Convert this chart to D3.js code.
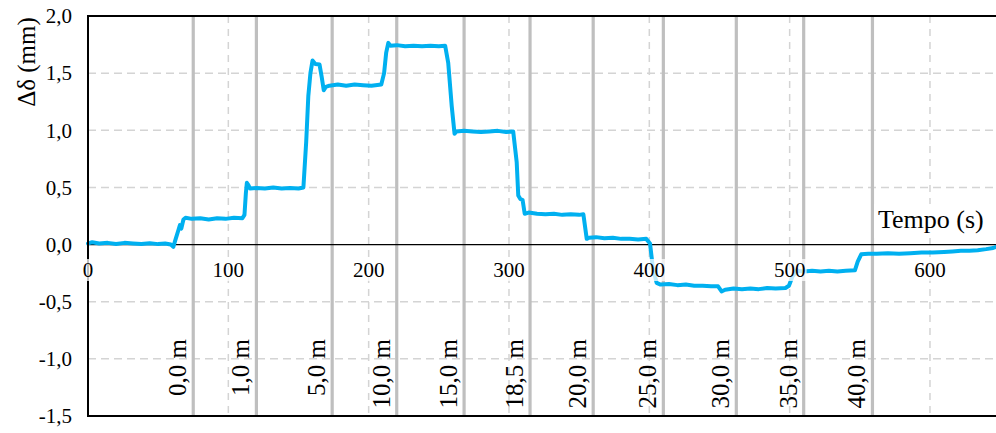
<!DOCTYPE html>
<html><head><meta charset="utf-8">
<script src="https://cdn.jsdelivr.net/npm/d3@7"></script>
<style>
html,body{margin:0;padding:0;background:#fff;}
</style></head>
<body><svg id="c" width="996" height="433" font-family="'Liberation Serif', 'DejaVu Serif', serif"></svg>
<script>
// ---- data ----
const time = [0,3,8,14,20,26,32,38,44,50,55,59,60.8,62.5,64.5,65.5,66.5,68,69.5,74,80,86,92,98,104,110,111.5,112.5,113.2,114.3,115.5,120,126,132,138,144,150,153.5,155.5,157,158.5,160,162,165,166.5,168,169.5,172,178,184,190,196,202,209,211,212.5,214,215.5,220,226,232,238,244,250,254.5,256.7,259.2,261.2,262.5,268,274,280,286,292,298,303,305.5,306.6,308,309.7,311.2,314,320,326,332,338,344,350,353,355.4,357,362,368,374,380,386,392,397.8,400.5,402.5,405.2,408,414,420,426,432,438,444,449,451.5,454,460,466,472,478,484,490,497,499.5,502,505,510,516,522,528,534,540,546.5,548.5,551,556,562,570,578,586,594,602,610,616,622,628,634,640,645,648];
const delta = [0.01,0.02,0.01,0.015,0.005,0.015,0.01,0.005,0.012,0.004,0.01,0.0,-0.02,0.05,0.13,0.17,0.14,0.22,0.235,0.225,0.23,0.22,0.23,0.225,0.235,0.23,0.26,0.45,0.54,0.52,0.49,0.495,0.49,0.5,0.49,0.495,0.49,0.5,0.9,1.3,1.5,1.61,1.58,1.575,1.47,1.35,1.38,1.39,1.4,1.39,1.4,1.395,1.39,1.4,1.5,1.68,1.765,1.74,1.745,1.735,1.74,1.735,1.74,1.735,1.74,1.59,1.21,0.97,0.99,0.995,0.99,0.985,0.99,0.995,0.985,0.99,0.72,0.43,0.4,0.39,0.27,0.28,0.27,0.265,0.27,0.26,0.265,0.26,0.265,0.05,0.06,0.065,0.055,0.06,0.05,0.05,0.045,0.05,0.01,-0.2,-0.335,-0.35,-0.345,-0.355,-0.35,-0.36,-0.36,-0.365,-0.365,-0.41,-0.395,-0.385,-0.39,-0.385,-0.39,-0.38,-0.385,-0.38,-0.36,-0.28,-0.23,-0.235,-0.23,-0.235,-0.23,-0.235,-0.23,-0.225,-0.15,-0.085,-0.08,-0.08,-0.075,-0.08,-0.075,-0.07,-0.07,-0.065,-0.06,-0.055,-0.055,-0.05,-0.04,-0.03,-0.015];
const markerTimes = [75,120,174,220,268,315,360,410,462,510,559];
const markerLabels = ["0,0 m","1,0 m","5,0 m","10,0 m","15,0 m","18,5 m","20,0 m","25,0 m","30,0 m","35,0 m","40,0 m"];
const xTicks = [0,100,200,300,400,500,600];
const yTicks = [2.0,1.5,1.0,0.5,0.0,-0.5,-1.0,-1.5];
const xTitle = "Tempo (s)";
const yTitle = "Δδ (mm)";

// ---- chart ----
const FONT = "'Liberation Serif', 'DejaVu Serif', serif";
const svg = d3.select("#c");
const L = 88, T = 16, B = 416;
const x = d3.scaleLinear().domain([0,650]).range([L, L + 650*1.4033]);
const y = d3.scaleLinear().domain([-1.5,2.0]).range([B, T]);
const fmt = v => d3.format(".1f")(v).replace(".", ",").replace("−","-");

// dashed grid
svg.append("g").selectAll("line").data(yTicks.filter(v => v !== 0 && v !== 2 && v !== -1.5)).join("line")
  .attr("x1", L).attr("x2", 996).attr("y1", d => y(d)).attr("y2", d => y(d))
  .attr("stroke", "#d4d4d4").attr("stroke-width", 1.5).attr("stroke-dasharray", "8,5");
svg.append("g").selectAll("line").data(xTicks.filter(v => v !== 0)).join("line")
  .attr("x1", d => x(d)).attr("x2", d => x(d)).attr("y1", T).attr("y2", B)
  .attr("stroke", "#d4d4d4").attr("stroke-width", 1.5).attr("stroke-dasharray", "7,6");

// marker lines
svg.append("g").selectAll("line").data(markerTimes).join("line")
  .attr("x1", d => x(d)).attr("x2", d => x(d)).attr("y1", T).attr("y2", B)
  .attr("stroke", "#bfbfbf").attr("stroke-width", 3.2);

// marker labels
svg.append("g").selectAll("text").data(markerTimes).join("text")
  .attr("transform", d => `translate(${x(d) - 7},339) rotate(-90)`)
  .attr("text-anchor", "end").attr("font-size", 25).attr("font-family", FONT)
  .text((d, i) => markerLabels[i]);

// zero axis
svg.append("line").attr("x1", L).attr("x2", 996).attr("y1", y(0)).attr("y2", y(0))
  .attr("stroke", "#000").attr("stroke-width", 1.3);

// data line
const line = d3.line().x(d => x(d[0])).y(d => y(d[1])).curve(d3.curveLinear);
svg.append("path").datum(time.map((t, i) => [t, delta[i]]))
  .attr("d", line).attr("fill", "none").attr("stroke", "#00b0f0")
  .attr("stroke-width", 4).attr("stroke-linejoin", "round").attr("stroke-linecap", "round");

// frame
svg.append("line").attr("x1", L).attr("x2", 996).attr("y1", T).attr("y2", T).attr("stroke", "#000").attr("stroke-width", 2);
svg.append("line").attr("x1", L).attr("x2", 996).attr("y1", B).attr("y2", B).attr("stroke", "#000").attr("stroke-width", 2);
svg.append("line").attr("x1", L).attr("x2", L).attr("y1", T - 1).attr("y2", B + 1).attr("stroke", "#000").attr("stroke-width", 2);

// x tick labels with translucent white background
const xt = svg.append("g").selectAll("g").data(xTicks).join("g");
xt.append("rect").attr("x", d => x(d) - (d === 0 ? 7 : 17)).attr("y", 259).attr("width", d => d === 0 ? 14 : 34).attr("height", 22)
  .attr("fill", "#fff").attr("opacity", 0.75);
xt.append("text").attr("x", d => x(d)).attr("y", 277).attr("text-anchor", "middle").attr("font-size", 21).attr("font-family", FONT)
  .text(d => d);

// y tick labels
svg.append("g").selectAll("text").data(yTicks).join("text")
  .attr("x", 72).attr("y", d => y(d)).attr("dy", "0.35em").attr("text-anchor", "end").attr("font-size", 21).attr("font-family", FONT)
  .text(d => fmt(d));

// x title
svg.append("rect").attr("x", 874).attr("y", 204).attr("width", 118).attr("height", 34).attr("fill", "#fff");
svg.append("text").attr("x", 878).attr("y", 228).attr("font-size", 26).attr("font-family", FONT).text(xTitle);

// y title
svg.append("text").attr("transform", "translate(35,62) rotate(-90)").attr("text-anchor", "middle")
  .attr("font-size", 25).attr("font-family", FONT).text(yTitle);
</script></body></html>
